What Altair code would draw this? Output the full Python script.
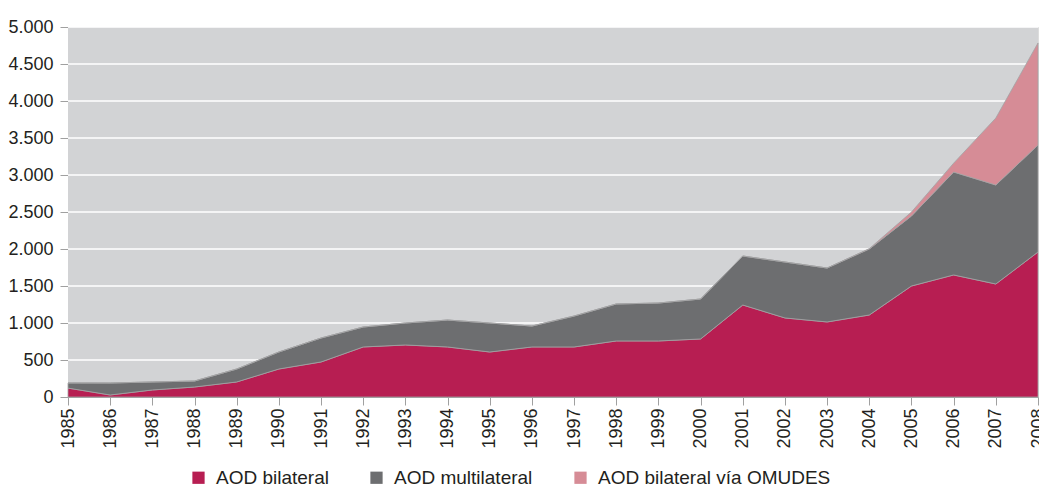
import altair as alt
import pandas as pd

years = list(range(1985, 2009))
bilateral = [120, 27, 95, 135, 203, 378, 473, 676, 703, 676, 608, 676,
             676, 757, 757, 784, 1243, 1068, 1014, 1108, 1500, 1649, 1527, 1959]
multilateral = [70, 162, 108, 81, 175, 230, 324, 270, 297, 364, 392, 283,
                418, 500, 513, 540, 662, 756, 729, 892, 946, 1391, 1338, 1446]
omudes = [0, 0, 0, 0, 0, 0, 0, 0, 0, 0, 0, 0,
          0, 0, 0, 0, 0, 0, 0, 5, 54, 120, 905, 1379]
y_ticks = list(range(0, 5001, 500))

series = ["AOD bilateral", "AOD multilateral", "AOD bilateral vía OMUDES"]
colors = ["#b71e52", "#6d6e70", "#d68c96"]

W, H = 970, 370

rows = []
for i, y in enumerate(years):
    for k, (name, vals) in enumerate(zip(series, [bilateral, multilateral, omudes])):
        rows.append({"year": y, "serie": name, "valor": vals[i], "ord": k})
df = pd.DataFrame(rows)
grid_df = pd.DataFrame({"g": y_ticks[1:]})

xscale = alt.Scale(domain=[1985, 2008], nice=False, zero=False)
yscale = alt.Scale(domain=[0, 5000], nice=False)

x_axis = alt.Axis(title=None, values=years, format="d", labelAngle=-90,
                  labelAlign="right", labelBaseline="middle",
                  labelPadding=3, tickSize=8, grid=False,
                  domainColor="#a0a0a0", tickColor="#a0a0a0",
                  labelFontSize=18, labelColor="#231f20",
                  labelFont="Liberation Sans", labelFlush=False,
                  labelOverlap=False)
y_axis = alt.Axis(title=None, values=y_ticks,
                  labelExpr="replace(format(datum.value, ','), ',', '.')",
                  tickSize=8, labelPadding=7, grid=False,
                  domainColor="#a0a0a0", tickColor="#a0a0a0",
                  labelFontSize=18, labelColor="#231f20",
                  labelFont="Liberation Sans")

bg = alt.Chart(pd.DataFrame({"a": [0]})).mark_rect(color="#d2d3d5").encode(
    x=alt.value(0), x2=alt.value(W), y=alt.value(0), y2=alt.value(H)
)

grid = alt.Chart(grid_df).mark_rule(color="#ffffff", strokeWidth=1.5).encode(
    y=alt.Y("g:Q", scale=yscale, axis=y_axis)
)

areas = alt.Chart(df).mark_area(
    interpolate="linear", stroke="#a3a3a5", strokeWidth=0.8
).encode(
    x=alt.X("year:Q", scale=xscale, axis=x_axis),
    y=alt.Y("valor:Q", stack="zero", scale=yscale, axis=y_axis),
    color=alt.Color("serie:N", scale=alt.Scale(domain=series, range=colors),
                    legend=alt.Legend(title=None, orient="none", direction="horizontal",
                                      legendX=121, legendY=441, symbolType="square",
                                      symbolSize=150, symbolStrokeWidth=0,
                                      labelFontSize=19, labelFont="Liberation Sans",
                                      labelColor="#231f20", columnPadding=38,
                                      labelOffset=8, padding=0, labelLimit=400)),
    order=alt.Order("ord:Q", sort="ascending"),
)

chart = alt.layer(bg, grid, areas).properties(
    width=W, height=H,
    autosize=alt.AutoSizeParams(type="none"),
    padding={"left": 60, "top": 19, "right": 1, "bottom": 91},
).configure_view(
    stroke=None
).configure(background="#ffffff")

chart.save("out.html", embed_options={"renderer": "svg", "actions": False})
